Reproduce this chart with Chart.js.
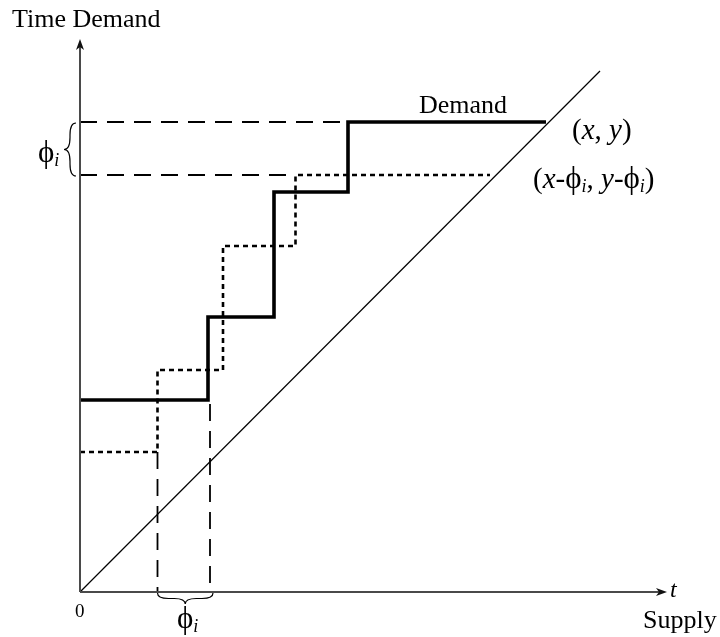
<!DOCTYPE html>
<html>
<head>
<meta charset="utf-8">
<script src="https://cdn.jsdelivr.net/npm/chart.js@4.4.1/dist/chart.umd.min.js"></script>
<style>
  html, body { margin: 0; padding: 0; background: #fff; }
  #wrap { width: 720px; height: 637px; position: relative; }
</style>
</head>
<body>
<div id="wrap"><canvas id="chart"></canvas></div>
<script>
// step curve "Demand" (solid) and its shifted copy (dotted)
const demandX = [0, 128, 194, 268, 466];
const demandY = [192, 275, 400, 470, 470];
const shiftedX = [0, 77.5, 143, 215.5, 410];
const shiftedY = [140, 222, 346, 417, 417];
// supply line t
const supplyX = [0, 520];
const supplyY = [0, 521];
// dashed guides
const guideHY = [470, 417];
const guideHEnd = [268, 215.5];
const guideVX = [77.5, 130];
const guideVEnd = [140, 188];
// axis extents
const xAxisEnd = 580;
const yAxisEnd = 546;

function pts(xs, ys) {
  return xs.map((x, i) => ({ x: x, y: ys[i] }));
}

const datasets = [];
// axes
datasets.push({ data: pts([0, xAxisEnd], [0, 0]), borderColor: '#4a4a4a', borderWidth: 2 });
datasets.push({ data: pts([0, 0], [0, yAxisEnd]), borderColor: '#4a4a4a', borderWidth: 2 });
// dashed guides
guideHY.forEach((y, i) => {
  datasets.push({ data: pts([0, guideHEnd[i]], [y, y]), borderColor: '#000', borderWidth: 1.8, borderDash: [17, 10] });
});
guideVX.forEach((x, i) => {
  datasets.push({ data: pts([x, x], [guideVEnd[i], 0]), borderColor: '#000', borderWidth: 1.8, borderDash: [17, 10] });
});
// supply diagonal
datasets.push({ data: pts(supplyX, supplyY), borderColor: '#000', borderWidth: 1.2 });
// shifted demand (dotted)
datasets.push({ data: pts(shiftedX, shiftedY), stepped: 'before', borderColor: '#000', borderWidth: 2.6, borderDash: [5, 4] });
// demand (solid)
datasets.push({ data: pts(demandX, demandY), stepped: 'before', borderColor: '#000', borderWidth: 3.6, borderJoinStyle: 'miter' });

datasets.forEach(d => { d.pointRadius = 0; d.fill = false; d.clip = false; d.tension = 0; });

const SERIF = '"Liberation Serif", "DejaVu Serif", serif';

function drawRuns(ctx, x, y, runs) {
  let cx = x;
  runs.forEach(r => {
    ctx.font = r.font;
    ctx.fillText(r.t, cx, y + (r.dy || 0));
    cx += ctx.measureText(r.t).width + (r.sp || 0);
  });
}

function brace(ctx, x, y, len, h, angle) {
  ctx.save();
  ctx.translate(x, y);
  ctx.rotate(angle);
  const q = Math.min(h, len / 4);
  ctx.beginPath();
  ctx.moveTo(0, 0);
  ctx.quadraticCurveTo(0, h / 2, q, h / 2);
  ctx.lineTo(len / 2 - q, h / 2);
  ctx.quadraticCurveTo(len / 2, h / 2, len / 2, h);
  ctx.quadraticCurveTo(len / 2, h / 2, len / 2 + q, h / 2);
  ctx.lineTo(len - q, h / 2);
  ctx.quadraticCurveTo(len, h / 2, len, 0);
  ctx.strokeStyle = '#000';
  ctx.lineWidth = 1.2;
  ctx.stroke();
  ctx.restore();
}

function arrow(ctx, tx, ty, angle) {
  ctx.save();
  ctx.translate(tx, ty);
  ctx.rotate(angle);
  ctx.beginPath();
  ctx.moveTo(0, 0);
  ctx.lineTo(-11, -4);
  ctx.lineTo(-8, 0);
  ctx.lineTo(-11, 4);
  ctx.closePath();
  ctx.fillStyle = '#111';
  ctx.fill();
  ctx.restore();
}

const decor = {
  id: 'decor',
  afterDraw(chart) {
    const ctx = chart.ctx;
    const xs = chart.scales.x, ys = chart.scales.y;
    const X = v => xs.getPixelForValue(v);
    const Y = v => ys.getPixelForValue(v);
    ctx.save();
    // arrowheads
    arrow(ctx, X(xAxisEnd) + 7, Y(0), 0);
    arrow(ctx, X(0), Y(yAxisEnd) - 7, -Math.PI / 2);
    // braces
    brace(ctx, X(0) - 4, Y(guideHY[0]) + 1, Y(guideHY[1]) - Y(guideHY[0]), 12, Math.PI / 2);
    brace(ctx, X(guideVX[0]), Y(0) + 1, X(guideVX[1]) - X(guideVX[0]) + 3, 11, 0);
    // texts
    ctx.fillStyle = '#000';
    ctx.textBaseline = 'alphabetic';
    ctx.textAlign = 'left';
    const up = '26px ' + SERIF;
    const cu = '29px ' + SERIF, ci = 'italic 29px ' + SERIF;
    const phi = '31px ' + SERIF, sub = 'italic 18px ' + SERIF;
    drawRuns(ctx, 12, 27, [{ t: 'Time Demand', font: up }]);
    drawRuns(ctx, 419, 113, [{ t: 'Demand', font: up }]);
    drawRuns(ctx, 572, 139, [{ t: '(', font: cu }, { t: 'x', font: ci }, { t: ', ', font: cu }, { t: 'y', font: ci }, { t: ')', font: cu }]);
    drawRuns(ctx, 533, 188, [
      { t: '(', font: cu }, { t: 'x', font: ci }, { t: '-', font: cu },
      { t: 'ϕ', font: phi }, { t: 'i', font: sub, dy: 4 }, { t: ', ', font: cu },
      { t: 'y', font: ci }, { t: '-', font: cu },
      { t: 'ϕ', font: phi }, { t: 'i', font: sub, dy: 4 }, { t: ')', font: cu }
    ]);
    drawRuns(ctx, 38, 162, [{ t: 'ϕ', font: phi }, { t: 'i', font: sub, dy: 4 }]);
    drawRuns(ctx, 177, 628, [{ t: 'ϕ', font: phi }, { t: 'i', font: sub, dy: 4 }]);
    drawRuns(ctx, 75, 617, [{ t: '0', font: '19px ' + SERIF }]);
    drawRuns(ctx, 670, 597, [{ t: 't', font: 'italic 24px ' + SERIF }]);
    drawRuns(ctx, 643, 628, [{ t: 'Supply', font: up }]);
    ctx.restore();
  }
};

window.onload = function () {
  if (typeof Chart === 'undefined') {
    console.error('Chart.js not loaded');
    return;
  }
  const ctx = document.getElementById('chart');
  new Chart(ctx, {
    type: 'line',
    data: { datasets: datasets },
    options: {
      responsive: true,
      maintainAspectRatio: false,
      animation: false,
      parsing: false,
      layout: { padding: { left: 80, top: 0, right: 0, bottom: 45 } },
      plugins: { legend: { display: false }, tooltip: { enabled: false } },
      scales: {
        x: { type: 'linear', min: 0, max: 640, display: false },
        y: { type: 'linear', min: 0, max: 592, display: false }
      }
    },
    plugins: [decor]
  });
};
</script>
</body>
</html>
